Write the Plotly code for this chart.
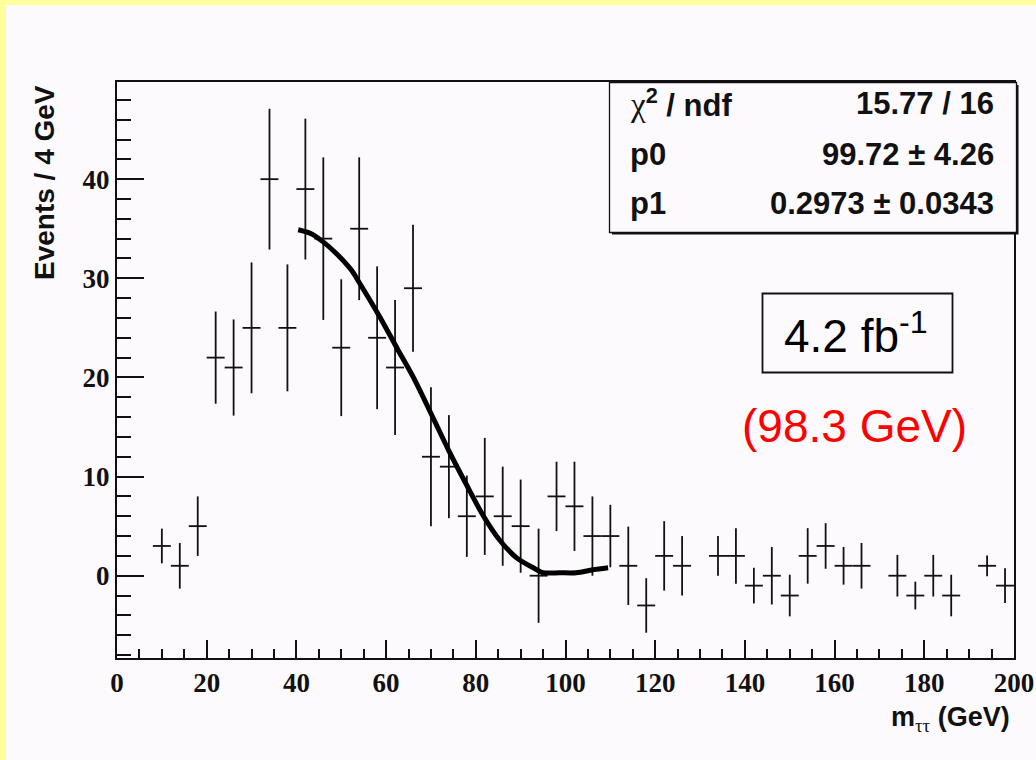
import plotly.graph_objects as go

# Background-subtracted m_tautau spectrum, 4 GeV bins (bin centres)
mass = [10, 14, 18, 22, 26, 30, 34, 38, 42, 46, 50, 54, 58, 62, 66, 70, 74, 78,
        82, 86, 90, 94, 98, 102, 106, 110, 114, 118, 122, 126, 134, 138, 142,
        146, 150, 154, 158, 162, 166, 174, 178, 182, 186, 194, 198]
events = [3, 1, 5, 22, 21, 25, 40, 25, 39, 34, 23, 35, 24, 21, 29, 12, 11, 6,
          8, 6, 5, 0, 8, 7, 4, 4, 1, -3, 2, 1, 2, 2, -1,
          0, -2, 2, 3, 1, 1, 0, -2, 0, -2, 1, -1]
errors = [1.75, 2.3, 3.0, 4.65, 4.85, 6.6, 7.1, 6.4, 7.1, 8.2, 6.9, 7.2, 7.2, 6.8, 6.4, 7.0, 5.2, 4.1,
          5.9, 5.0, 4.7, 4.75, 3.5, 4.5, 4.0, 3.15, 3.95, 2.75, 3.5, 3.0, 2.0, 2.8, 1.8,
          2.9, 2.1, 2.8, 2.3, 1.9, 2.3, 2.1, 1.4, 2.1, 2.1, 1.05, 1.75]
bin_half_width = 2

# Fitted curve (40-110 GeV)
fit_mass = [40.4, 43.3, 45.9, 48.9, 52.3, 54.1, 58.6, 62.5, 66.2, 70.5, 74.0,
            77.9, 81.6, 85.3, 89.1, 92.8, 95.0, 98.7, 102.4, 106.1, 109.5]
fit_events = [34.9, 34.5, 33.7, 32.5, 30.8, 29.5, 26.1, 22.9, 19.9, 15.9, 12.6,
              9.2, 6.1, 3.6, 1.8, 0.8, 0.3, 0.3, 0.3, 0.6, 0.8]

# Fit statistics
stat_labels = ["<span style=\"font-family:'Liberation Serif';font-weight:normal;font-size:33px\">χ</span><sup>2</sup> / ndf", "p0", "p1"]
stat_values = ["15.77 / 16", "99.72 ± 4.26", "0.2973 ± 0.0343"]

x_range = [0, 200]
y_range = [-8.3, 49.8]

W, H = 1036, 760
L, R, T, B = 117, 22, 82, 102
PW, PH = W - L - R, H - T - B


def px(p):
    return (p - L) / PW


def py(p):
    return (H - B - p) / PH


BLACK = "#111111"
BG = "#fdfafd"
fig = go.Figure()

fig.add_trace(go.Scatter(
    x=mass, y=events, mode="markers",
    marker=dict(size=1, color=BLACK, opacity=0),
    error_x=dict(type="constant", value=bin_half_width, width=0, thickness=1.8, color=BLACK),
    error_y=dict(type="data", array=errors, symmetric=True, width=0, thickness=1.8, color=BLACK),
    showlegend=False, hoverinfo="skip",
))

fig.add_trace(go.Scatter(
    x=fit_mass, y=fit_events, mode="lines",
    line=dict(color="black", width=5, shape="spline", smoothing=0.8),
    showlegend=False, hoverinfo="skip",
))

shapes = [
    # slide border strips
    dict(type="rect", xref="paper", yref="paper", x0=px(0), x1=px(6), y0=py(0), y1=py(H),
         fillcolor="#ffff9c", line=dict(width=0), layer="below"),
    dict(type="rect", xref="paper", yref="paper", x0=px(0), x1=px(W), y0=py(0), y1=py(5),
         fillcolor="#ffff9c", line=dict(width=0), layer="below"),
    # stats box shadow and box
    dict(type="rect", xref="paper", yref="paper", x0=px(612), x1=px(1018.5), y0=py(85), y1=py(234.5),
         fillcolor=BLACK, line=dict(width=0), layer="above"),
    dict(type="rect", xref="paper", yref="paper", x0=px(609.5), x1=px(1016.5), y0=py(82.5), y1=py(232.5),
         fillcolor=BG, line=dict(width=1.3, color=BLACK), layer="above"),
    # luminosity box
    dict(type="rect", xref="paper", yref="paper", x0=px(762.5), x1=px(952.5), y0=py(293.5), y1=py(372.5),
         fillcolor=BG, line=dict(width=1.8, color=BLACK), layer="above"),
]

annotations = []
row_y = [103, 154, 203.5]
for lab, val, yy in zip(stat_labels, stat_values, row_y):
    annotations.append(dict(xref="paper", yref="paper", x=px(628), y=py(yy), text=lab,
                            showarrow=False, xanchor="left", yanchor="middle",
                            font=dict(family="Liberation Sans", size=31, color=BLACK, weight="bold")))
    annotations.append(dict(xref="paper", yref="paper", x=px(996), y=py(yy), text=val,
                            showarrow=False, xanchor="right", yanchor="middle",
                            font=dict(family="Liberation Sans", size=31, color=BLACK, weight="bold")))

annotations += [
    dict(xref="paper", yref="paper", x=px(856), y=py(333), text="4.2 fb<sup>-1</sup>",
         showarrow=False, xanchor="center", yanchor="middle",
         font=dict(family="Liberation Sans", size=46, color="black")),
    dict(xref="paper", yref="paper", x=px(854.5), y=py(426), text="(98.3 GeV)",
         showarrow=False, xanchor="center", yanchor="middle",
         font=dict(family="Liberation Sans", size=46, color="#ff0000")),
    dict(xref="paper", yref="paper", x=px(44), y=py(183), text="Events / 4 GeV",
         textangle=-90, showarrow=False, xanchor="center", yanchor="middle",
         font=dict(family="Liberation Sans", size=28, color=BLACK, weight="bold")),
    dict(xref="paper", yref="paper", x=px(1012), y=py(719),
         text="m<sub><span style=\"font-family:'Liberation Serif';font-weight:normal\">ττ</span></sub> (GeV)",
         showarrow=False, xanchor="right", yanchor="middle",
         font=dict(family="Liberation Sans", size=27, color=BLACK, weight="bold")),
]

tick_font = dict(family="Liberation Serif", size=27, color=BLACK, weight="bold")

fig.update_layout(
    width=W, height=H,
    margin=dict(l=L, r=R, t=T, b=B, pad=0, autoexpand=False),
    paper_bgcolor=BG, plot_bgcolor=BG,
    shapes=shapes, annotations=annotations,
    xaxis=dict(range=x_range, tick0=0, dtick=20, ticks="inside", ticklen=18, tickwidth=1.8,
               tickcolor=BLACK, showline=True, linecolor=BLACK, linewidth=2, mirror=True,
               showgrid=False, zeroline=False, tickfont=tick_font, automargin=False,
               minor=dict(dtick=5, ticks="inside", ticklen=9, tickwidth=1.8, tickcolor=BLACK, showgrid=False)),
    yaxis=dict(range=y_range, tick0=0, dtick=10, ticks="inside", ticklen=27, tickwidth=1.8,
               tickcolor=BLACK, showline=True, linecolor=BLACK, linewidth=2, mirror=True,
               showgrid=False, zeroline=False, tickfont=tick_font, automargin=False,
               minor=dict(tick0=0, dtick=2, ticks="inside", ticklen=14, tickwidth=1.8, tickcolor=BLACK, showgrid=False)),
)

fig.write_html("out.html")
